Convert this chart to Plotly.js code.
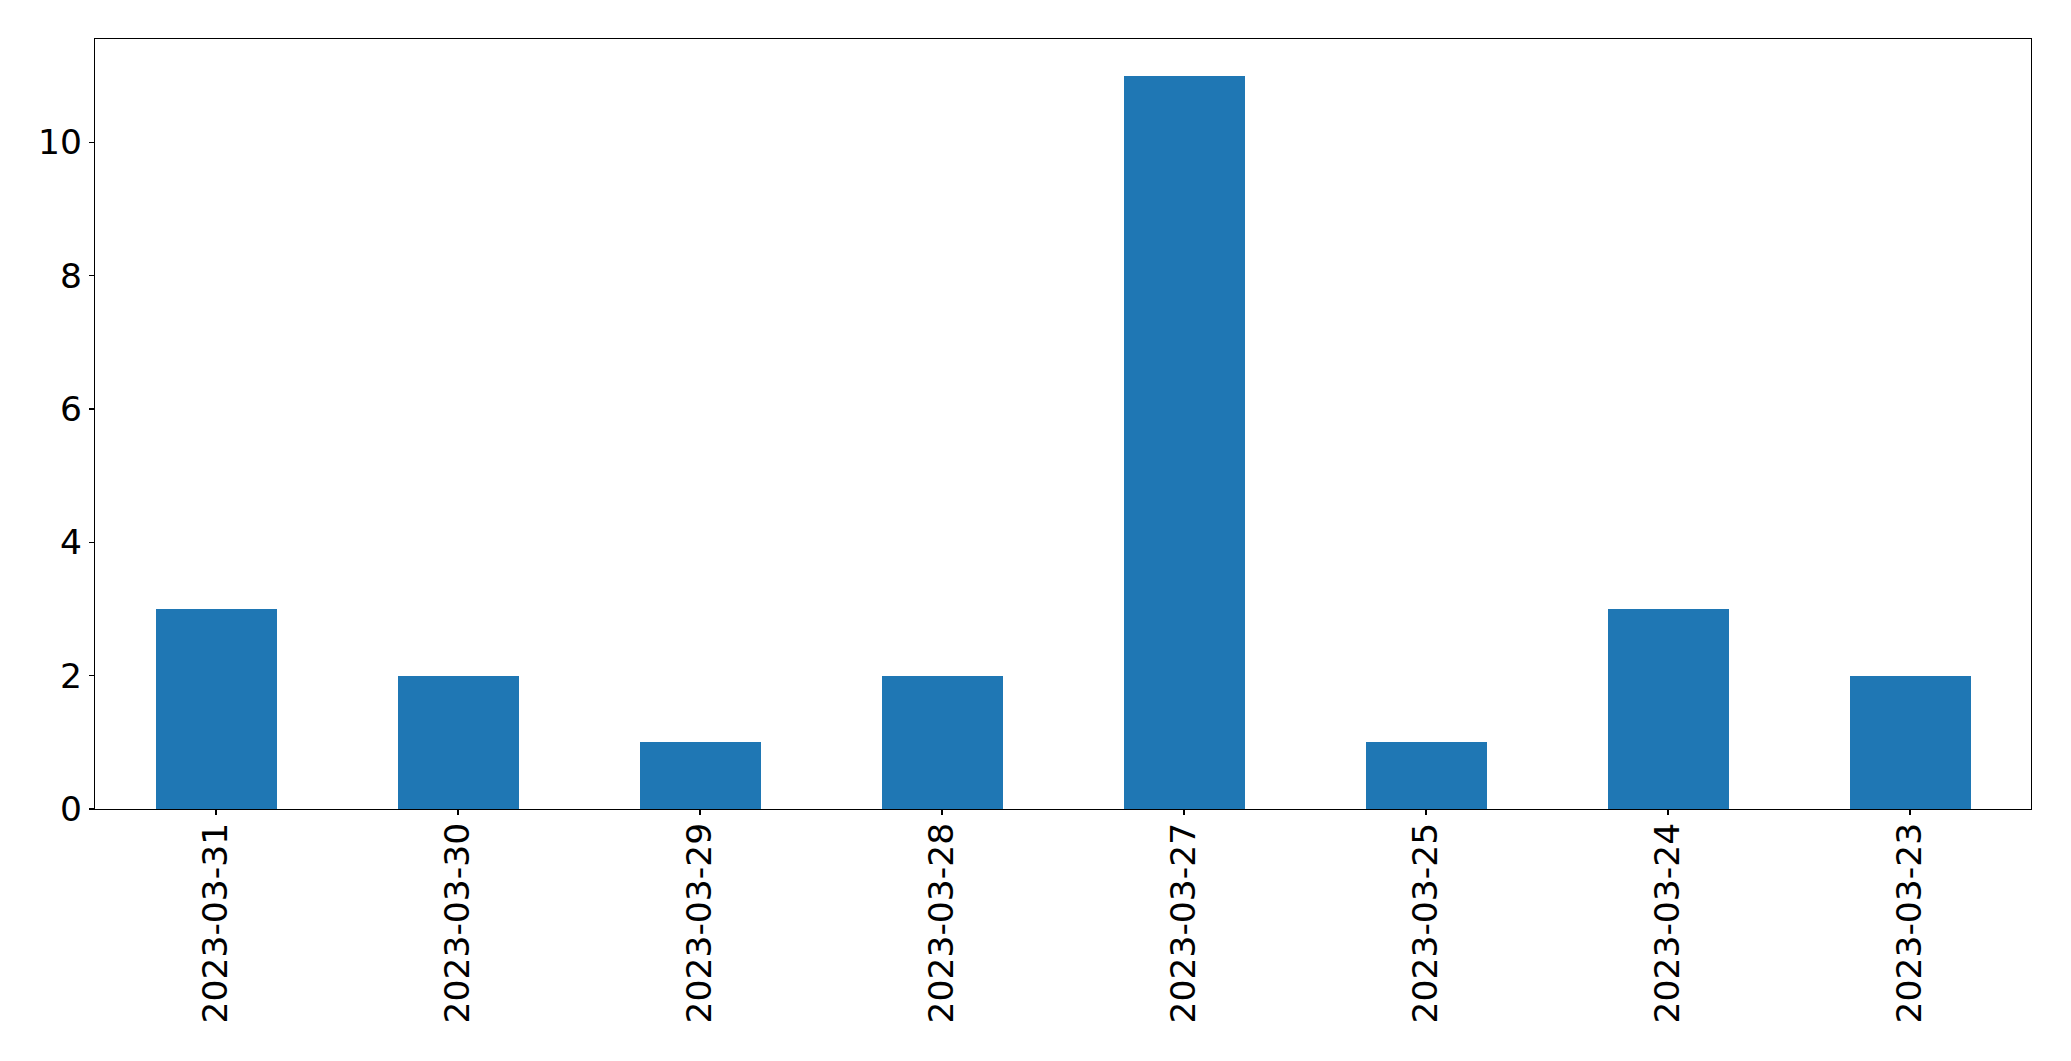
<!DOCTYPE html>
<html>
<head>
<meta charset="utf-8">
<script src="https://cdn.plot.ly/plotly-3.0.1.min.js"></script>
<style>html,body{margin:0;padding:0;background:#fff;}#chart{width:2071px;height:1061px;}</style>
</head>
<body>
<div id="chart"></div>
<script>
const dates = ["2023-03-31","2023-03-30","2023-03-29","2023-03-28","2023-03-27","2023-03-25","2023-03-24","2023-03-23"];
const counts = [3, 2, 1, 2, 11, 1, 3, 2];
const yTicks = [0, 2, 4, 6, 8, 10];

const trace = {
  type: 'bar',
  x: dates,
  y: counts,
  width: 0.5,
  marker: {color: '#1f77b4', line: {width: 0}},
  hoverinfo: 'x+y'
};
const font = {family: 'DejaVu Sans', size: 34.5, color: '#000'};
const layout = {
  width: 2071, height: 1061,
  margin: {l: 95, r: 39.5, t: 39.3, b: 252, pad: 0},
  paper_bgcolor: '#fff', plot_bgcolor: '#fff',
  showlegend: false,
  bargap: 0,
  xaxis: {
    type: 'category',
    range: [-0.5, dates.length - 0.5],
    showline: true, mirror: true, linecolor: '#000', linewidth: 1.1,
    ticks: 'outside', ticklen: 5, tickwidth: 1.1, tickcolor: '#000',
    tickangle: -90, tickfont: font, ticklabelstandoff: -6,
    showgrid: false, zeroline: false, automargin: false
  },
  yaxis: {
    range: [0, 11.55],
    tickvals: yTicks, ticktext: yTicks.map(String),
    showline: true, mirror: true, linecolor: '#000', linewidth: 1.1,
    ticks: 'outside', ticklen: 5, tickwidth: 1.1, tickcolor: '#000',
    tickfont: font,
    showgrid: false, zeroline: false, automargin: false
  }
};
Plotly.newPlot('chart', [trace], layout, {displayModeBar: false, staticPlot: true});
</script>
</body>
</html>
